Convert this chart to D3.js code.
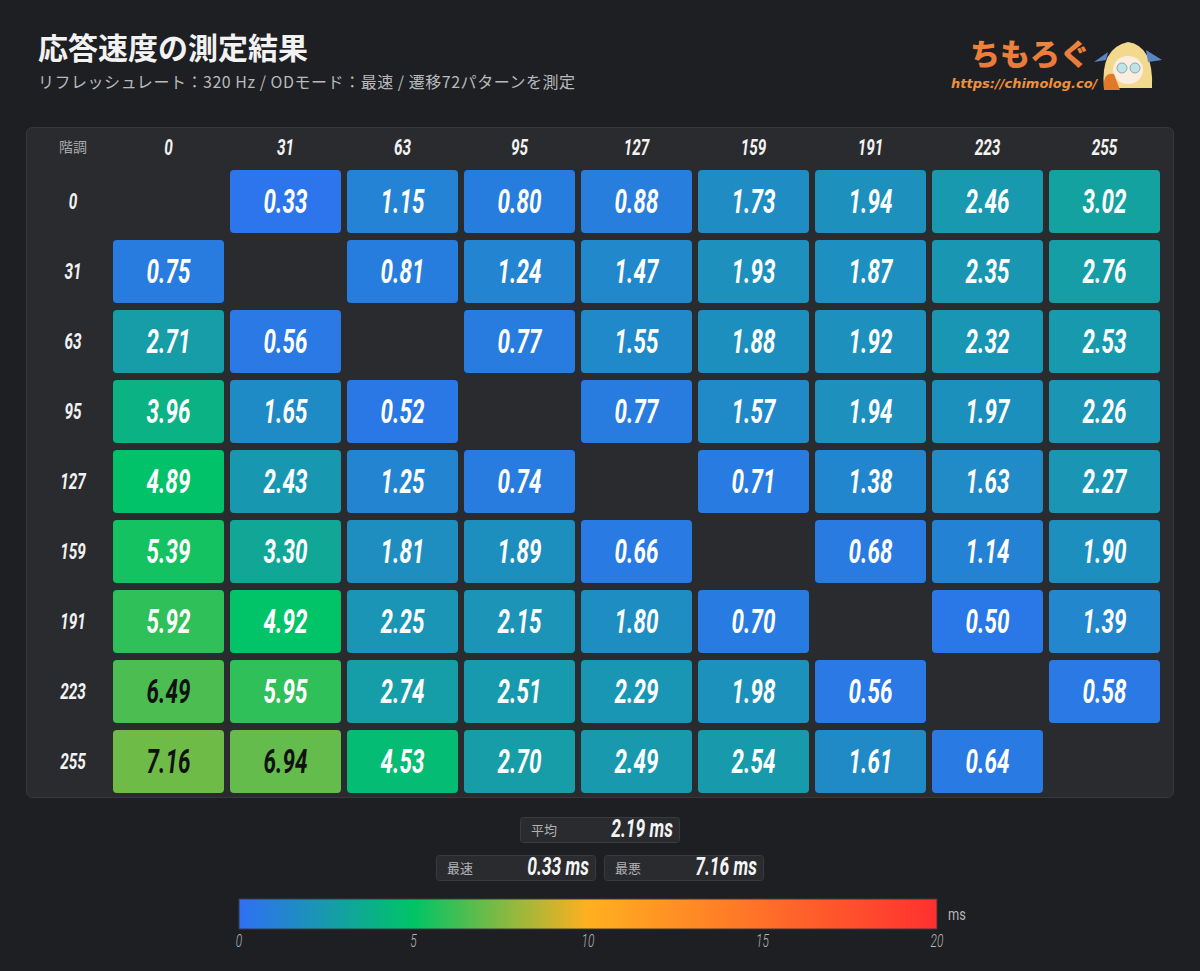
<!DOCTYPE html>
<html><head><meta charset="utf-8">
<script src="https://cdn.jsdelivr.net/npm/d3@7"></script>
<style>
html,body{margin:0;padding:0;background:#1e1f22;}
svg{display:block;}
</style></head>
<body>
<svg id="chart" width="1200" height="971"></svg>
<script>
// ---- data ----
const levels = ["0","31","63","95","127","159","191","223","255"];
const row0   = [null,0.33,1.15,0.80,0.88,1.73,1.94,2.46,3.02];
const row31  = [0.75,null,0.81,1.24,1.47,1.93,1.87,2.35,2.76];
const row63  = [2.71,0.56,null,0.77,1.55,1.88,1.92,2.32,2.53];
const row95  = [3.96,1.65,0.52,null,0.77,1.57,1.94,1.97,2.26];
const row127 = [4.89,2.43,1.25,0.74,null,0.71,1.38,1.63,2.27];
const row159 = [5.39,3.30,1.81,1.89,0.66,null,0.68,1.14,1.90];
const row191 = [5.92,4.92,2.25,2.15,1.80,0.70,null,0.50,1.39];
const row223 = [6.49,5.95,2.74,2.51,2.29,1.98,0.56,null,0.58];
const row255 = [7.16,6.94,4.53,2.70,2.49,2.54,1.61,0.64,null];
const rows = [row0,row31,row63,row95,row127,row159,row191,row223,row255];
const colorStops = [0,5,10,20];
const colorValues = ["#2f6ff5","#00c466","#ffb020","#ff3030"];
const legendTicks = [0,5,10,15,20];
const title = "応答速度の測定結果";
const subtitle = "リフレッシュレート：320 Hz / ODモード：最速 / 遷移72パターンを測定";

// ---- setup ----
const svg = d3.select("#chart");
const NUM = "Roboto, 'Noto Sans', sans-serif";
const JP = "'Noto Sans CJK JP', 'Noto Sans', sans-serif";
const color = d3.scaleLinear().domain(colorStops).range(colorValues).interpolate(d3.interpolateRgb).clamp(true);

const cells = [];
rows.forEach((r,i)=>r.forEach((v,j)=>{ if(v!==null) cells.push({from:levels[i],to:levels[j],v}); }));

// title
svg.append("text").attr("x",38).attr("y",59).text(title)
  .attr("fill","#f2f2f2").attr("font-family",JP).attr("font-weight",700).attr("font-size",30);
svg.append("text").attr("x",38).attr("y",88).text(subtitle)
  .attr("fill","#b8b9bc").attr("font-family",JP).attr("font-size",16).attr("textLength",537).attr("lengthAdjust","spacing");

// logo
const defs = svg.append("defs");
const lg = defs.append("linearGradient").attr("id","logoGrad").attr("x1",0).attr("y1",0).attr("x2",0).attr("y2",1);
lg.append("stop").attr("offset","0%").attr("stop-color","#f08a3c");
lg.append("stop").attr("offset","100%").attr("stop-color","#e8763a");
svg.append("text").attr("x",970).attr("y",65).text("ちもろぐ")
  .attr("fill","url(#logoGrad)").attr("font-family",JP).attr("font-weight",900).attr("font-size",30);
svg.append("text").attr("x",951).attr("y",88).text("https://chimolog.co/")
  .attr("fill","#f0903a").attr("font-family","'DejaVu Sans', sans-serif").attr("font-style","italic").attr("font-weight",700).attr("font-size",13);
// simple mascot drawing
const m = svg.append("g").attr("transform","translate(1128,66)");
m.append("path").attr("d","M-24,22 Q-28,-18 0,-24 Q26,-20 24,22 Z").attr("fill","#f3d98e");
m.append("path").attr("d","M-20,-14 L-34,-4 L-22,-6 Z").attr("fill","#5a86c8");
m.append("path").attr("d","M18,-16 L34,-6 L20,-4 Z").attr("fill","#5a86c8");
m.append("ellipse").attr("cx",0).attr("cy",4).attr("rx",15).attr("ry",14).attr("fill","#fbeee0");
m.append("path").attr("d","M-16,-4 Q0,-20 16,-4 L12,-8 Q0,-14 -12,-8 Z").attr("fill","#f3d98e");
m.append("circle").attr("cx",-6).attr("cy",2).attr("r",5).attr("fill","#bfe3e6").attr("stroke","#8aa","stroke-width",1);
m.append("circle").attr("cx",7).attr("cy",2).attr("r",5).attr("fill","#bfe3e6").attr("stroke","#8aa","stroke-width",1);
m.append("path").attr("d","M-24,24 Q-26,6 -14,8 L-8,24 Z").attr("fill","#e07a2a");

// panel
svg.append("rect").attr("x",26.5).attr("y",127.5).attr("width",1147).attr("height",670).attr("rx",6)
  .attr("fill","#2a2b2f").attr("stroke","#37383c");

// scales
const x = d3.scaleBand().domain(levels).range([110,1163]).paddingInner(6/117).paddingOuter(3/117);
const y = d3.scaleBand().domain(levels).range([166.5,796.5]).paddingInner(0.1).paddingOuter(0.05);

function numText(sel, size){
  return sel.attr("font-family",NUM).attr("font-weight",700).attr("font-style","italic").attr("font-size",size);
}

// header
svg.append("text").attr("x",73).attr("y",152).attr("text-anchor","middle").text("階調")
  .attr("fill","#a8a9ac").attr("font-family",JP).attr("font-size",14);
const hdr = svg.append("g").selectAll("text").data(levels).join("text")
  .attr("transform",d=>`translate(${x(d)+x.bandwidth()/2},154.5) scale(0.7,1)`)
  .attr("text-anchor","middle").attr("fill","#f2f2f2").text(d=>d);
numText(hdr,22);
const rl = svg.append("g").selectAll("text").data(levels).join("text")
  .attr("transform",d=>`translate(73,${y(d)+y.bandwidth()/2+7.5}) scale(0.7,1)`)
  .attr("text-anchor","middle").attr("fill","#f2f2f2").text(d=>d);
numText(rl,22);

// cells
const g = svg.append("g");
g.selectAll("rect").data(cells).join("rect")
  .attr("x",d=>x(d.to)).attr("y",d=>y(d.from)).attr("width",x.bandwidth()).attr("height",y.bandwidth())
  .attr("rx",4).attr("fill",d=>color(d.v));
const ct = g.selectAll("text").data(cells).join("text")
  .attr("transform",d=>`translate(${x(d.to)+x.bandwidth()/2},${y(d.from)+y.bandwidth()/2+11.5}) scale(0.66,1)`)
  .attr("text-anchor","middle").attr("fill",d=>d.v>=6?"#111":"#fff").text(d=>d.v.toFixed(2));
numText(ct,34);

// summary
const vals = cells.map(d=>d.v);
const summary = [
  {label:"平均", v:d3.mean(vals), bx:520, by:817},
  {label:"最速", v:d3.min(vals), bx:436, by:855},
  {label:"最悪", v:d3.max(vals), bx:604, by:855}
];
const sg = svg.append("g").selectAll("g").data(summary).join("g").attr("transform",d=>`translate(${d.bx},${d.by})`);
sg.append("rect").attr("x",0.5).attr("y",0.5).attr("width",159).attr("height",25).attr("rx",3)
  .attr("fill","#2a2b2f").attr("stroke","#3a3b3f");
sg.append("text").attr("x",11).attr("y",18).text(d=>d.label).attr("fill","#b0b1b4").attr("font-family",JP).attr("font-size",13);
const sv = sg.append("text").attr("transform","translate(153,20) scale(0.7,1)").attr("text-anchor","end")
  .attr("fill","#f4f4f4").text(d=>d.v.toFixed(2)+" ms");
numText(sv,25);

// colorbar
const cx = d3.scaleLinear().domain([0,20]).range([239,937]);
const cg = defs.append("linearGradient").attr("id","cbar").attr("x1",0).attr("x2",1).attr("y1",0).attr("y2",0);
d3.range(0,20.01,1).forEach(v=>cg.append("stop").attr("offset",(v/20*100)+"%").attr("stop-color",color(v)));
svg.append("rect").attr("x",cx(0)).attr("y",899).attr("width",cx(20)-cx(0)).attr("height",30)
  .attr("fill","url(#cbar)").attr("stroke","#3a3b3f");
svg.append("g").selectAll("text").data(legendTicks).join("text")
  .attr("transform",d=>`translate(${cx(d)},947) scale(0.66,1)`).attr("text-anchor","middle")
  .attr("fill","#b5b6b9").attr("font-family",NUM).attr("font-style","italic").attr("font-weight",300).attr("font-size",18)
  .text(d=>d);
svg.append("text").attr("transform","translate(948,920) scale(0.8,1)").text("ms")
  .attr("fill","#b5b6b9").attr("font-family",NUM).attr("font-size",16);
</script>
</body></html>
